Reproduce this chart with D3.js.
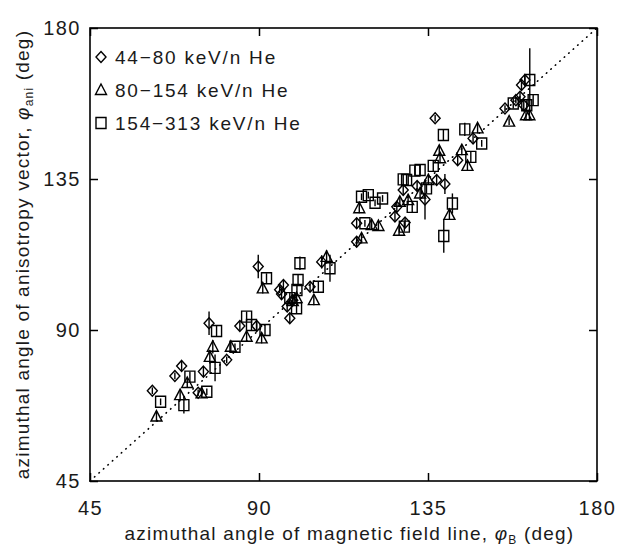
<!DOCTYPE html>
<html>
<head>
<meta charset="utf-8">
<script src="https://cdn.jsdelivr.net/npm/d3@7"></script>
<style>
body { margin: 0; background: #fff; }
text { font-family: "Liberation Sans", Arial, sans-serif; fill: #1a1a1a; }
</style>
</head>
<body>
<svg id="chart"></svg>
<script>
// tick values shared by both axes (deg)
const tickValues = [45, 90, 135, 180];
const seriesNames = ["44−80 keV/n He", "80−154 keV/n He", "154−313 keV/n He"];
const seriesShapes = ["diamond", "triangle", "square"];

// [phi_B, phi_ani, error half-length]
const lowHe = [
    [61.6, 71.9, 1], [67.6, 76.3, 1], [69.4, 79.3, 1.5], [73.8, 71.3, 1], [75.2, 77.6, 1.5],
    [76.7, 92.0, 3.5], [81.4, 81.1, 1], [84.9, 91.2, 1.5], [89.4, 91.2, 1.5], [89.8, 108.9, 3.5],
    [96.5, 103.4, 1.5], [96.0, 100.7, 1.5], [95.5, 102.0, 1], [97.5, 97.0, 1.5], [98.2, 93.5, 1.5],
    [99.0, 98.9, 1.5], [103.6, 102.9, 1.5], [106.7, 110.3, 2], [116.0, 121.8, 1.5], [116.0, 116.3, 1.5],
    [126.2, 123.8, 1.5], [126.7, 126.7, 1.5], [128.4, 131.7, 1.5], [128.9, 122.0, 1.5], [132.1, 132.9, 1.5],
    [134.2, 128.9, 6], [137.3, 134.7, 1.5], [139.5, 133.5, 3], [136.9, 153.1, 1], [147.0, 147.1, 1.5],
    [142.9, 140.6, 1.5], [155.5, 156.0, 1], [159.5, 159.5, 1.5], [159.9, 163.0, 1.5], [160.8, 164.5, 1.5],
    [160.5, 157.0, 1.5], [158.4, 158.5, 1]
];
const midHe = [
    [62.7, 64.2, 1.5], [69.0, 70.6, 1.5], [70.9, 74.2, 1.5], [74.7, 71.1, 1], [76.9, 82.0, 2],
    [77.7, 85.0, 2], [82.5, 85.0, 1.5], [86.7, 88.0, 1.5], [90.7, 87.5, 1.5], [91.0, 102.4, 1.5],
    [99.0, 98.6, 1.5], [100.0, 99.5, 1.5], [104.6, 98.9, 1.5], [108.0, 111.8, 2], [116.7, 126.3, 1.5],
    [117.3, 117.3, 1.5], [120.0, 121.3, 1.5], [121.8, 121.0, 1.5], [127.3, 119.6, 1.5], [127.5, 128.2, 1.5],
    [129.7, 128.7, 1.5], [132.9, 130.7, 1.5], [135.1, 134.7, 1.5], [138.0, 143.4, 1.5], [138.2, 141.2, 1.5],
    [140.7, 124.3, 1.5], [144.0, 143.6, 1.5], [145.5, 138.9, 1.5], [148.2, 150.1, 1.5], [156.6, 152.1, 1],
    [161.1, 154.0, 1.5], [162.0, 154.0, 1.5]
];
const highHe = [
    [63.8, 68.6, 1], [70.0, 67.6, 2.5], [71.6, 76.1, 1.5], [76.1, 71.6, 1], [78.3, 78.7, 4],
    [78.7, 89.7, 1.5], [83.6, 85.0, 1], [86.7, 94.0, 1.5], [88.0, 91.5, 1.5], [91.6, 90.0, 1.5],
    [92.0, 105.4, 1.5], [98.2, 99.5, 1.5], [100.0, 96.5, 1.5], [100.1, 101.9, 1.5], [100.4, 104.9, 1.5],
    [100.9, 109.9, 2], [105.8, 102.9, 1.5], [108.9, 108.4, 4], [117.3, 129.7, 1], [118.2, 121.8, 1],
    [119.1, 130.2, 1], [120.9, 127.9, 1], [122.9, 129.2, 1], [128.4, 134.9, 1.5], [128.7, 120.8, 1.5],
    [129.3, 134.7, 1.5], [130.8, 126.7, 1.5], [131.5, 137.5, 1.5], [132.9, 137.7, 1.5], [134.6, 132.2, 1.5],
    [136.4, 138.9, 1.5], [139.1, 148.1, 1.5], [139.2, 118.0, 5], [141.5, 127.7, 3], [144.8, 149.8, 2],
    [146.4, 141.6, 1.5], [149.3, 145.6, 1], [157.7, 157.5, 1.5], [161.3, 157.0, 1.5], [162.1, 164.5, 9.5],
    [163.0, 158.5, 1.5]
];
const series = [lowHe, midHe, highHe];

const width = 618, height = 549;
const margin = { top: 28, right: 21, bottom: 68, left: 90 };

const svg = d3.select('#chart')
    .attr('width', width)
    .attr('height', height);

const x = d3.scaleLinear().domain([45, 180]).range([margin.left, width - margin.right]);
const y = d3.scaleLinear().domain([45, 180]).range([height - margin.bottom, margin.top]);

const shapes = {
    diamond: 'M0,-5.5L5,0L0,5.5L-5,0Z',
    triangle: 'M0,-6L5.5,4.5L-5.5,4.5Z',
    square: 'M-5,-5.5H5V5.5H-5Z'
};

// y = x reference line
svg.append('line')
    .attr('x1', x(45)).attr('y1', y(45))
    .attr('x2', x(180)).attr('y2', y(180))
    .attr('stroke', '#000')
    .attr('stroke-width', 1.6)
    .attr('stroke-linecap', 'round')
    .attr('stroke-dasharray', '0.5,5.5');

// axes, ticks pointing inward
function styleAxis(g) {
    g.select('.domain').remove();
    g.selectAll('.tick line').attr('stroke', '#000').attr('stroke-width', 1.5);
    g.selectAll('.tick text').attr('font-size', 20).attr('fill', '#1a1a1a')
        .attr('letter-spacing', 1.5)
        .attr('font-family', '"Liberation Sans", Arial, sans-serif');
}
svg.append('g')
    .attr('transform', `translate(0,${y(45)})`)
    .call(d3.axisBottom(x).tickValues(tickValues).tickSize(-8).tickPadding(20))
    .call(styleAxis);
svg.append('g')
    .attr('transform', `translate(${x(45)},0)`)
    .call(d3.axisLeft(y).tickValues(tickValues).tickSize(-8).tickPadding(9))
    .call(styleAxis);
svg.append('g')
    .attr('transform', `translate(0,${y(180)})`)
    .call(d3.axisTop(x).tickValues(tickValues).tickSize(-8).tickFormat(''))
    .call(styleAxis);
svg.append('g')
    .attr('transform', `translate(${x(180)},0)`)
    .call(d3.axisRight(y).tickValues(tickValues).tickSize(-8).tickFormat(''))
    .call(styleAxis);

svg.append('rect')
    .attr('x', x(45)).attr('y', y(180))
    .attr('width', x(180) - x(45)).attr('height', y(45) - y(180))
    .attr('fill', 'none').attr('stroke', '#000').attr('stroke-width', 1.6);

// data points with vertical error bars
series.forEach((data, i) => {
    const g = svg.append('g');
    g.selectAll('line.err')
        .data(data)
        .enter()
        .append('line')
        .attr('class', 'err')
        .attr('x1', d => x(d[0])).attr('x2', d => x(d[0]))
        .attr('y1', d => y(d[1] - d[2])).attr('y2', d => y(d[1] + d[2]))
        .attr('stroke', '#000').attr('stroke-width', 1.4);
    g.selectAll('path')
        .data(data)
        .enter()
        .append('path')
        .attr('d', shapes[seriesShapes[i]])
        .attr('transform', d => `translate(${x(d[0])},${y(d[1])})`)
        .attr('fill', 'none')
        .attr('stroke', '#000')
        .attr('stroke-width', 1.4);
});

// legend
const legend = svg.append('g');
seriesNames.forEach((name, i) => {
    const ly = 57 + i * 33;
    legend.append('path')
        .attr('d', shapes[seriesShapes[i]])
        .attr('transform', `translate(101,${ly})`)
        .attr('fill', 'none').attr('stroke', '#000').attr('stroke-width', 1.4);
    legend.append('text')
        .attr('x', 115).attr('y', ly + 7)
        .attr('font-size', 19)
        .attr('letter-spacing', 1.8)
        .text(name);
});

// axis titles
const xt = svg.append('text')
    .attr('x', (x(45) + x(180)) / 2 + 6).attr('y', 540)
    .attr('text-anchor', 'middle')
    .attr('font-size', 19)
    .attr('letter-spacing', 1.2);
xt.append('tspan').text('azimuthal angle of magnetic field line, ');
xt.append('tspan').attr('font-style', 'italic').text('φ');
xt.append('tspan').attr('font-size', 12).attr('dy', 4).text('B');
xt.append('tspan').attr('dy', -4).text(' (deg)');

const yt = svg.append('text')
    .attr('transform', `translate(29,${(y(45) + y(180)) / 2}) rotate(-90)`)
    .attr('text-anchor', 'middle')
    .attr('font-size', 19)
    .attr('letter-spacing', 1.2);
yt.append('tspan').text('azimuthal angle of anisotropy vector, ');
yt.append('tspan').attr('font-style', 'italic').text('φ');
yt.append('tspan').attr('font-size', 12).attr('dy', 4).text('ani');
yt.append('tspan').attr('dy', -4).text(' (deg)');
</script>
</body>
</html>
